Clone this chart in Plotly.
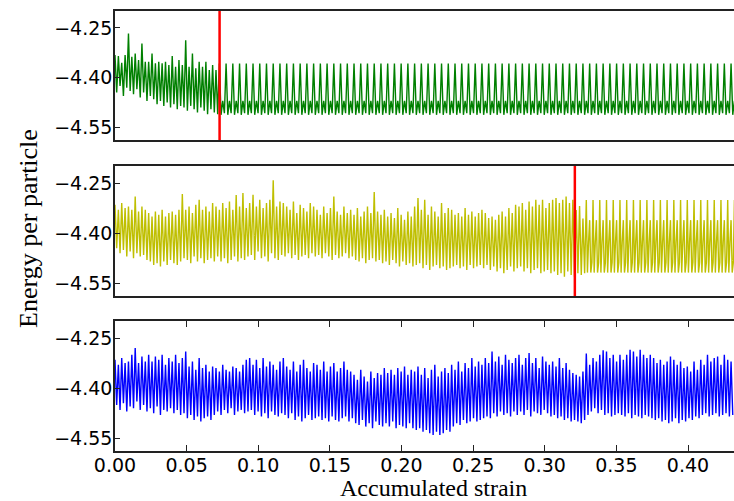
import plotly.graph_objects as go
from plotly.subplots import make_subplots

# ---------------- data ----------------
HALF_CYCLE = 0.00235          # accumulated strain per half shear cycle
X_MAX = 0.4321
red_lines = [0.073, 0.321]     # onset of limit cycle (green, yellow)

x_tick_vals = [0.00, 0.05, 0.10, 0.15, 0.20, 0.25, 0.30, 0.35, 0.40]
x_tick_text = ["0.00", "0.05", "0.10", "0.15", "0.20", "0.25", "0.30", "0.35", "0.40"]
y_tick_vals = [-4.55, -4.40, -4.25]
y_tick_text = ["\u22124.55", "\u22124.40", "\u22124.25"]

# green: transient peaks / troughs, then periodic limit cycle
green_peaks = [-4.332, -4.335, -4.355, -4.332, -4.267, -4.337, -4.327, -4.347, -4.297, -4.352,
               -4.352, -4.327, -4.357, -4.352, -4.357, -4.352, -4.362, -4.335, -4.367, -4.347,
               -4.362, -4.287, -4.367, -4.327, -4.372, -4.352, -4.367, -4.352, -4.377, -4.362,
               -4.377]
green_troughs = [-4.445, -4.425, -4.455, -4.430, -4.440, -4.450, -4.435, -4.460, -4.445, -4.470,
                 -4.455, -4.465, -4.480, -4.470, -4.485, -4.475, -4.490, -4.480, -4.495, -4.485,
                 -4.490, -4.500, -4.485, -4.495, -4.505, -4.490, -4.500, -4.510, -4.495, -4.505,
                 -4.510]
green_cycle = [-4.357, -4.512, -4.470, -4.507]

# yellow: transient, short transition, then limit cycle
yellow_peaks = [
    -4.315, -4.330, -4.310, -4.325, -4.320, -4.330, -4.290, -4.335, -4.320, -4.330,
    -4.340, -4.350, -4.335, -4.345, -4.330, -4.350, -4.340, -4.335, -4.345, -4.330,
    -4.283, -4.330, -4.320, -4.340, -4.315, -4.300, -4.330, -4.320, -4.335, -4.310,
    -4.320, -4.330, -4.310, -4.325, -4.305, -4.330, -4.286, -4.320, -4.280, -4.325,
    -4.310, -4.285, -4.320, -4.300, -4.325, -4.310, -4.300, -4.242, -4.320, -4.305,
    -4.310, -4.320, -4.330, -4.305, -4.340, -4.315, -4.325, -4.335, -4.310, -4.320,
    -4.330, -4.345, -4.320, -4.340, -4.325, -4.290, -4.335, -4.345, -4.320, -4.340,
    -4.330, -4.345, -4.325, -4.350, -4.335, -4.320, -4.340, -4.277, -4.335, -4.345,
    -4.330, -4.350, -4.340, -4.355, -4.325, -4.345, -4.360, -4.335, -4.350, -4.320,
    -4.295, -4.330, -4.300, -4.345, -4.320, -4.335, -4.350, -4.310, -4.340, -4.325,
    -4.330, -4.345, -4.340, -4.350, -4.325, -4.345, -4.335, -4.350, -4.340, -4.330,
    -4.340, -4.355, -4.350, -4.360, -4.345, -4.335, -4.350, -4.325, -4.340, -4.315,
    -4.320, -4.310, -4.330, -4.305, -4.320, -4.300, -4.315, -4.300, -4.325, -4.310,
    -4.300, -4.295, -4.310, -4.300, -4.290, -4.310, -4.300]
yellow_troughs = [
    -4.445, -4.460, -4.450, -4.470, -4.455, -4.475, -4.460, -4.470, -4.465, -4.480,
    -4.485, -4.495, -4.490, -4.500, -4.485, -4.495, -4.480, -4.490, -4.495, -4.485,
    -4.475, -4.480, -4.490, -4.470, -4.485, -4.475, -4.490, -4.480, -4.475, -4.485,
    -4.470, -4.485, -4.475, -4.490, -4.480, -4.470, -4.485, -4.475, -4.480, -4.470,
    -4.465, -4.480, -4.455, -4.475, -4.470, -4.485, -4.460, -4.475, -4.480, -4.465,
    -4.470, -4.460, -4.475, -4.465, -4.480, -4.470, -4.465, -4.475, -4.460, -4.470,
    -4.465, -4.475, -4.460, -4.470, -4.480, -4.465, -4.475, -4.470, -4.460, -4.475,
    -4.470, -4.480, -4.485, -4.475, -4.490, -4.480, -4.475, -4.485, -4.480, -4.490,
    -4.485, -4.495, -4.480, -4.490, -4.500, -4.485, -4.495, -4.490, -4.500, -4.495,
    -4.490, -4.505, -4.495, -4.510, -4.500, -4.495, -4.505, -4.500, -4.510, -4.505,
    -4.500, -4.495, -4.505, -4.500, -4.510, -4.495, -4.505, -4.500, -4.495, -4.505,
    -4.495, -4.510, -4.500, -4.515, -4.505, -4.520, -4.510, -4.500, -4.515, -4.505,
    -4.500, -4.515, -4.505, -4.520, -4.510, -4.505, -4.520, -4.515, -4.510, -4.520,
    -4.515, -4.525, -4.520, -4.530, -4.515, -4.525, -4.530]
yellow_trans_peaks = [-4.331, -4.319, -4.356]
yellow_trans_troughs = [-4.520, -4.525, -4.520]
yellow_cycle = [-4.301, -4.518, -4.427, -4.361, -4.518, -4.488]

# blue: never settles
blue_peaks = [
    -4.315, -4.330, -4.310, -4.325, -4.320, -4.300, -4.280, -4.325, -4.305, -4.320,
    -4.300, -4.320, -4.305, -4.315, -4.300, -4.330, -4.310, -4.320, -4.300, -4.325,
    -4.310, -4.290, -4.335, -4.320, -4.345, -4.310, -4.340, -4.330, -4.350, -4.335,
    -4.340, -4.350, -4.330, -4.345, -4.350, -4.335, -4.340, -4.350, -4.330, -4.315,
    -4.310, -4.330, -4.315, -4.340, -4.310, -4.335, -4.320, -4.330, -4.345, -4.320,
    -4.310, -4.335, -4.345, -4.320, -4.350, -4.330, -4.315, -4.340, -4.350, -4.325,
    -4.330, -4.345, -4.320, -4.350, -4.335, -4.325, -4.350, -4.340, -4.320, -4.345,
    -4.350, -4.360, -4.375, -4.345, -4.365, -4.380, -4.350, -4.370, -4.355, -4.360,
    -4.340, -4.355, -4.345, -4.360, -4.340, -4.350, -4.335, -4.360, -4.345, -4.350,
    -4.335, -4.360, -4.340, -4.370, -4.345, -4.330, -4.365, -4.350, -4.340, -4.355,
    -4.330, -4.345, -4.320, -4.350, -4.325, -4.340, -4.310, -4.335, -4.320, -4.330,
    -4.310, -4.325, -4.290, -4.320, -4.305, -4.330, -4.300, -4.315, -4.325, -4.310,
    -4.300, -4.330, -4.310, -4.295, -4.325, -4.310, -4.340, -4.305, -4.320, -4.330,
    -4.320, -4.335, -4.310, -4.340, -4.325, -4.345, -4.355, -4.360, -4.365, -4.350,
    -4.296, -4.330, -4.310, -4.320, -4.300, -4.287, -4.290, -4.310, -4.300, -4.320,
    -4.300, -4.315, -4.300, -4.285, -4.290, -4.305, -4.285, -4.300, -4.310, -4.300,
    -4.310, -4.325, -4.315, -4.330, -4.320, -4.305, -4.315, -4.330, -4.320, -4.340,
    -4.335, -4.350, -4.320, -4.345, -4.315, -4.330, -4.300, -4.320, -4.310, -4.305,
    -4.330, -4.300, -4.315, -4.320]
blue_troughs = [
    -4.450, -4.465, -4.445, -4.470, -4.455, -4.460, -4.440, -4.465, -4.450, -4.470,
    -4.460, -4.475, -4.455, -4.480, -4.465, -4.470, -4.460, -4.475, -4.465, -4.480,
    -4.475, -4.490, -4.480, -4.495, -4.485, -4.500, -4.490, -4.485, -4.495, -4.480,
    -4.470, -4.480, -4.465, -4.475, -4.460, -4.480, -4.470, -4.465, -4.475, -4.470,
    -4.465, -4.480, -4.470, -4.485, -4.475, -4.490, -4.470, -4.480, -4.485, -4.475,
    -4.480, -4.490, -4.475, -4.495, -4.485, -4.500, -4.490, -4.480, -4.495, -4.490,
    -4.485, -4.495, -4.490, -4.500, -4.485, -4.495, -4.500, -4.490, -4.485, -4.500,
    -4.490, -4.505, -4.510, -4.495, -4.515, -4.505, -4.520, -4.500, -4.510, -4.515,
    -4.505, -4.515, -4.500, -4.520, -4.510, -4.515, -4.520, -4.505, -4.520, -4.525,
    -4.520, -4.530, -4.525, -4.535, -4.540, -4.530, -4.540, -4.535, -4.525, -4.530,
    -4.515, -4.505, -4.510, -4.495, -4.505, -4.500, -4.490, -4.500, -4.495, -4.490,
    -4.485, -4.490, -4.475, -4.485, -4.470, -4.480, -4.475, -4.485, -4.470, -4.480,
    -4.470, -4.480, -4.465, -4.485, -4.470, -4.475, -4.480, -4.465, -4.475, -4.485,
    -4.480, -4.490, -4.485, -4.495, -4.490, -4.500, -4.495, -4.500, -4.505, -4.495,
    -4.480, -4.470, -4.460, -4.475, -4.465, -4.480, -4.475, -4.485, -4.480, -4.475,
    -4.480, -4.485, -4.475, -4.490, -4.480, -4.485, -4.490, -4.480, -4.485, -4.490,
    -4.495, -4.490, -4.500, -4.495, -4.505, -4.500, -4.490, -4.505, -4.495, -4.500,
    -4.490, -4.495, -4.485, -4.490, -4.480, -4.475, -4.485, -4.480, -4.475, -4.485,
    -4.480, -4.475, -4.485, -4.480]

colors = ["#008000", "#BFBF00", "#0000FF"]


# ---------------- helpers ----------------
def half_cycles(peaks, troughs, start_k):
    xs, ys = [], []
    for i, (p, t) in enumerate(zip(peaks, troughs)):
        k = start_k + i
        xs += [k * HALF_CYCLE, k * HALF_CYCLE + HALF_CYCLE / 2]
        ys += [p, t]
    return xs, ys


def limit_cycle(cycle, start_k):
    xs, ys = [], []
    x0 = start_k * HALF_CYCLE
    period = 2 * HALF_CYCLE
    n = len(cycle)
    c = 0
    while x0 + c * period <= X_MAX + period:
        for j, v in enumerate(cycle):
            xs.append(x0 + c * period + j * period / n)
            ys.append(v)
        c += 1
    return xs, ys


gx1, gy1 = half_cycles(green_peaks, green_troughs, 0)
gx2, gy2 = limit_cycle(green_cycle, len(green_peaks))
green_x, green_y = gx1 + gx2, gy1 + gy2

yx1, yy1 = half_cycles(yellow_peaks, yellow_troughs, 0)
yx2, yy2 = half_cycles(yellow_trans_peaks, yellow_trans_troughs, len(yellow_peaks))
yx3, yy3 = limit_cycle(yellow_cycle, len(yellow_peaks) + len(yellow_trans_peaks))
yellow_x, yellow_y = yx1 + yx2 + yx3, yy1 + yy2 + yy3

blue_x, blue_y = half_cycles(blue_peaks, blue_troughs, 0)

# ---------------- figure ----------------
fig = make_subplots(rows=3, cols=1, shared_xaxes=True)

for r, (xs, ys, col) in enumerate([(green_x, green_y, colors[0]),
                                    (yellow_x, yellow_y, colors[1]),
                                    (blue_x, blue_y, colors[2])], start=1):
    fig.add_trace(go.Scatter(x=xs, y=ys, mode="lines",
                             line=dict(color=col, width=1.4),
                             showlegend=False, hoverinfo="skip"),
                  row=r, col=1)

fig.add_shape(type="line", x0=red_lines[0], x1=red_lines[0], xref="x", yref="y domain",
              y0=0, y1=1, line=dict(color="#FF0000", width=2.5))
fig.add_shape(type="line", x0=red_lines[1], x1=red_lines[1], xref="x2", yref="y2 domain",
              y0=0, y1=1, line=dict(color="#FF0000", width=2.5))

axis_line = dict(showline=True, linecolor="#222222", linewidth=1.5, showgrid=False,
                 zeroline=False, automargin=False)
tick_font = dict(family="DejaVu Sans", size=19, color="#000000")

domains = [[0.7068, 1.0], [0.3523, 0.6477], [0.0, 0.2955]]
for i in range(1, 4):
    sx = "" if i == 1 else str(i)
    fig.layout["yaxis" + sx].update(
        domain=domains[i - 1], range=[-4.588, -4.199], tickvals=y_tick_vals,
        ticktext=y_tick_text, ticks="inside", ticklen=5, tickwidth=1.2,
        tickcolor="#222222", tickfont=tick_font, ticklabelstandoff=-3,
        mirror=False, **axis_line)
    if i < 3:
        fig.layout["xaxis" + sx].update(range=[0, X_MAX], showticklabels=False,
                                        ticks="", mirror=True, **axis_line)
    else:
        fig.layout["xaxis" + sx].update(range=[0, X_MAX], tickvals=x_tick_vals,
                                        ticktext=x_tick_text, ticks="inside",
                                        ticklen=6, tickwidth=1.2, tickcolor="#222222",
                                        tickfont=tick_font, ticklabelstandoff=-4,
                                        mirror="ticks", **axis_line)

fig.add_annotation(text="Accumulated strain", xref="paper", yref="paper",
                   x=0.515, y=-0.0845, xanchor="center", yanchor="middle",
                   showarrow=False,
                   font=dict(family="Liberation Serif, Times New Roman, serif", size=24,
                             color="#000000"))
fig.add_annotation(text="Energy per particle", xref="paper", yref="paper",
                   x=-0.139, y=0.507, xanchor="center", yanchor="middle",
                   textangle=-90, showarrow=False,
                   font=dict(family="Liberation Serif, Times New Roman, serif", size=26,
                             color="#000000"))

fig.update_layout(width=734, height=501, margin=dict(l=115, r=0, t=11, b=50, autoexpand=False),
                  plot_bgcolor="white", paper_bgcolor="white")

fig.write_html("out.html", config={"displayModeBar": False},
               post_script="document.body.style.margin='0';document.body.style.overflow='hidden';")
